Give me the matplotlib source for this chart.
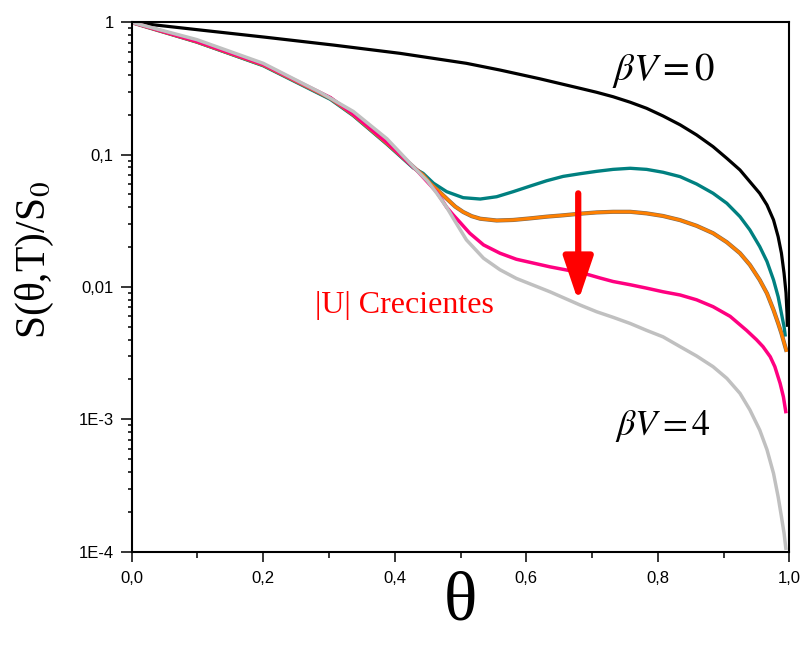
import matplotlib
matplotlib.use("Agg")
import matplotlib.pyplot as plt
from matplotlib.ticker import FixedLocator, FixedFormatter, LogLocator, NullFormatter, MultipleLocator

plt.rcParams['mathtext.fontset'] = 'stix'

# curves (theta, S/S0)
theta_v0 = [0.0, 0.104, 0.205, 0.307, 0.408, 0.509, 0.56, 0.62, 0.682, 0.707,
            0.732, 0.758, 0.783, 0.808, 0.834, 0.859, 0.884, 0.905, 0.925, 0.940,
            0.955, 0.966, 0.976, 0.983, 0.988, 0.992, 0.995, 0.9965, 0.997]
s_v0 = [1.0, 0.875, 0.77, 0.673, 0.583, 0.49, 0.436, 0.375, 0.317, 0.296,
        0.274, 0.249, 0.224, 0.196, 0.168, 0.141, 0.115, 0.0938, 0.0766, 0.0625,
        0.051, 0.0417, 0.0321, 0.024, 0.018, 0.0127, 0.0090, 0.0063, 0.005]

theta_teal = [0.0, 0.099, 0.2, 0.302, 0.337, 0.388, 0.428, 0.443, 0.459, 0.479,
              0.504, 0.530, 0.555, 0.580, 0.606, 0.631, 0.656, 0.682, 0.707, 0.732,
              0.758, 0.783, 0.808, 0.834, 0.859, 0.884, 0.905, 0.925, 0.940, 0.955,
              0.966, 0.976, 0.983, 0.988, 0.992, 0.994]
s_teal = [1.0, 0.71, 0.47, 0.262, 0.197, 0.12, 0.0795, 0.0723, 0.0608, 0.0525,
          0.0473, 0.0462, 0.0481, 0.0525, 0.0579, 0.0635, 0.0685, 0.0718, 0.0748, 0.0774,
          0.0789, 0.0774, 0.0736, 0.0682, 0.060, 0.0511, 0.0429, 0.034, 0.027, 0.0202,
          0.0156, 0.0113, 0.00845, 0.00632, 0.00501, 0.00422]

theta_orange = [0.0, 0.099, 0.2, 0.302, 0.337, 0.388, 0.433, 0.443, 0.454, 0.466,
                0.479, 0.492, 0.504, 0.517, 0.530, 0.555, 0.580, 0.606, 0.631, 0.656,
                0.682, 0.707, 0.732, 0.758, 0.783, 0.808, 0.834, 0.859, 0.884, 0.905,
                0.925, 0.940, 0.955, 0.966, 0.976, 0.983, 0.988, 0.993, 0.996]
s_orange = [1.0, 0.714, 0.476, 0.267, 0.2, 0.122, 0.077, 0.0702, 0.0607, 0.0535,
            0.0465, 0.0405, 0.0369, 0.0343, 0.0328, 0.0318, 0.0321, 0.033, 0.034, 0.0348,
            0.0358, 0.0366, 0.037, 0.037, 0.036, 0.0344, 0.032, 0.029, 0.0255, 0.0218,
            0.018, 0.0147, 0.0113, 0.00895, 0.0067, 0.00532, 0.00447, 0.00365, 0.00324]

theta_pink = [0.0, 0.099, 0.2, 0.302, 0.337, 0.388, 0.433, 0.464, 0.479, 0.489,
              0.5, 0.514, 0.535, 0.56, 0.585, 0.636, 0.687, 0.712, 0.732, 0.758,
              0.783, 0.808, 0.834, 0.859, 0.884, 0.910, 0.935, 0.950, 0.960, 0.971,
              0.978, 0.986, 0.991, 0.995]
s_pink = [1.0, 0.718, 0.48, 0.27, 0.202, 0.124, 0.0766, 0.052, 0.040, 0.035,
          0.0305, 0.0255, 0.0208, 0.018, 0.0162, 0.0142, 0.0127, 0.0117, 0.011, 0.0104,
          0.0098, 0.0092, 0.0087, 0.0080, 0.0071, 0.006, 0.0047, 0.004, 0.00354, 0.00297,
          0.0025, 0.00187, 0.00148, 0.00111]

theta_gray = [0.0, 0.099, 0.2, 0.287, 0.337, 0.388, 0.433, 0.45, 0.464, 0.479,
              0.489, 0.509, 0.535, 0.56, 0.585, 0.636, 0.682, 0.707, 0.732, 0.758,
              0.783, 0.808, 0.834, 0.859, 0.884, 0.905, 0.925, 0.940, 0.955, 0.966,
              0.976, 0.983, 0.988, 0.992, 0.995]
s_gray = [1.0, 0.74, 0.49, 0.295, 0.212, 0.132, 0.0766, 0.063, 0.051, 0.040,
          0.033, 0.0227, 0.0165, 0.0135, 0.0116, 0.0092, 0.0073, 0.0065, 0.0059, 0.0053,
          0.0047, 0.0042, 0.00354, 0.00301, 0.0025, 0.00204, 0.00157, 0.00118, 0.00083, 0.00059,
          0.00039, 0.00026, 0.000184, 0.000138, 0.000103]

x_ticks = [0.0, 0.2, 0.4, 0.6, 0.8, 1.0]
x_labels = ["0,0", "0,2", "0,4", "0,6", "0,8", "1,0"]
y_ticks = [1e-4, 1e-3, 1e-2, 1e-1, 1.0]
y_labels = ["1E-4", "1E-3", "0,01", "0,1", "1"]

fig = plt.figure(figsize=(8.06, 6.49), dpi=100)
ax = fig.add_axes([0.1634, 0.15, 0.8159, 0.8156])

kw = dict(solid_joinstyle='round', solid_capstyle='butt')
ax.plot(theta_v0, s_v0, color='black', lw=2.3, **kw)
ax.plot(theta_teal, s_teal, color='#008080', lw=2.4, **kw)
ax.plot(theta_orange, s_orange, color='#7a6a5a', lw=3.0, **kw)
ax.plot(theta_orange, s_orange, color='#ff8000', lw=2.2, **kw)
ax.plot(theta_pink, s_pink, color='#ff0080', lw=2.5, **kw)
ax.plot(theta_gray, s_gray, color='#c0c0c0', lw=2.5, **kw)

ax.set_yscale('log')
ax.set_xlim(0, 1)
ax.set_ylim(1e-4, 1)

ax.xaxis.set_major_locator(FixedLocator(x_ticks))
ax.xaxis.set_major_formatter(FixedFormatter(x_labels))
ax.xaxis.set_minor_locator(MultipleLocator(0.1))
ax.yaxis.set_major_locator(FixedLocator(y_ticks))
ax.yaxis.set_major_formatter(FixedFormatter(y_labels))
ax.yaxis.set_minor_locator(LogLocator(base=10, subs=range(2, 10)))
ax.yaxis.set_minor_formatter(NullFormatter())

for lab in ax.get_xticklabels() + ax.get_yticklabels():
    lab.set_fontfamily('Liberation Sans')
    lab.set_fontsize(12)
ax.tick_params(axis='x', which='major', length=7, width=1.1, pad=7)
ax.tick_params(axis='x', which='minor', length=4, width=1.1)
ax.tick_params(axis='y', which='major', length=8, width=1.1, pad=5)
ax.tick_params(axis='y', which='minor', length=3, width=1.1)
for sp in ax.spines.values():
    sp.set_linewidth(1.5)

# axis labels
fig.text(35 / 806, 1 - 260 / 649, "S(θ,T)/S$_0$", rotation=90, ha='center', va='center',
         fontfamily='Liberation Serif', fontsize=30)
fig.text(460 / 806, 1 - 620 / 649, "θ", ha='center', va='baseline',
         fontfamily='Liberation Serif', fontsize=50)

# annotations
ax.text(0.8084, 0.891, r"$\beta V = 0$", transform=ax.transAxes, ha='center',
        va='baseline', fontsize=28)
ax.text(0.8084, 0.2204, r"$\beta V = 4$", transform=ax.transAxes, ha='center',
        va='baseline', fontsize=26)
ax.text(0.414, 0.450, "|U| Crecientes", transform=ax.transAxes, ha='center',
        va='baseline', color='red', fontfamily='Liberation Serif', fontsize=23)
ax.annotate("", xy=(0.679, 0.0078), xytext=(0.679, 0.051),
            arrowprops=dict(arrowstyle='-|>,head_length=0.65,head_width=0.22',
                            color='red', lw=4.5, mutation_scale=41,
                            shrinkA=0, shrinkB=0, capstyle='round'))

fig.savefig("out.png", dpi=100)
